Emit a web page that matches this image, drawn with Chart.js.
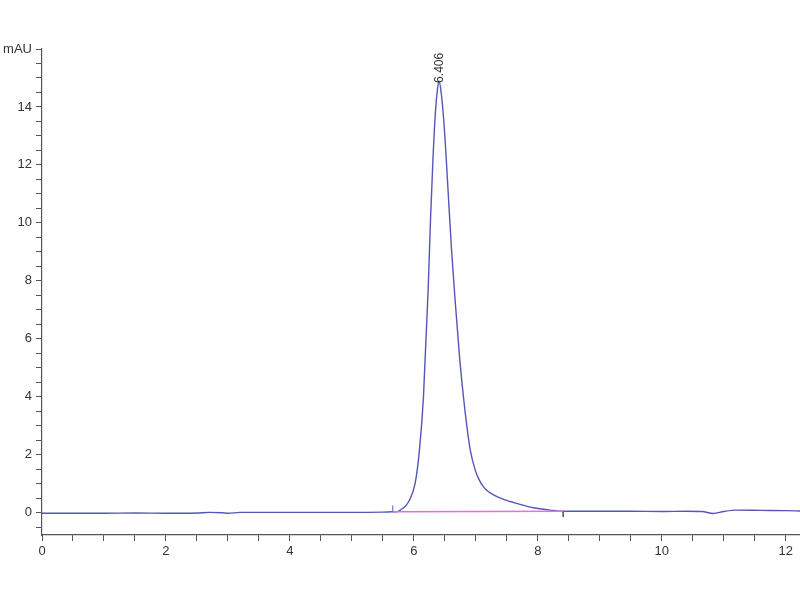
<!DOCTYPE html>
<html>
<head>
<meta charset="utf-8">
<script src="https://cdn.jsdelivr.net/npm/chart.js@4/dist/chart.umd.min.js"></script>
<style>
  html, body { margin: 0; padding: 0; background: #fff; }
</style>
</head>
<body>
<canvas id="c" width="800" height="600"></canvas>
<script>
// retention time (min) and absorbance (mAU)
const times = [0, 0.5, 1, 1.5, 2, 2.5, 2.7, 2.9, 3.0, 3.2, 3.5, 4, 4.5, 5, 5.5, 5.66, 5.72, 5.78, 5.86, 5.93,
  6.02, 6.09, 6.155, 6.23, 6.27, 6.31, 6.35, 6.38, 6.406, 6.44, 6.48, 6.52, 6.56, 6.61, 6.67, 6.74, 6.80,
  6.86, 6.91, 6.99, 7.05, 7.12, 7.2, 7.3, 7.45, 7.66, 7.93, 8.2, 8.41, 9, 9.5, 10, 10.4, 10.65, 10.83, 11.0, 11.2,
  11.6, 12, 12.23];
const signal = [-0.02, -0.02, -0.02, -0.01, -0.02, -0.01, 0.01, 0.0, -0.02, 0.01, 0.01, 0.01, 0.01, 0.01, 0.02, 0.03, 0.03, 0.09, 0.22, 0.44,
  1.01, 2.16, 4.0, 7.68, 10.2, 12.3, 13.9, 14.6, 14.9, 14.5, 13.6, 12.3, 10.8, 9.0, 7.2, 5.3, 4.0,
  2.9, 2.16, 1.47, 1.15, 0.9, 0.73, 0.6, 0.46, 0.32, 0.17, 0.09, 0.05, 0.05, 0.05, 0.04, 0.05, 0.04, -0.03, 0.04, 0.09,
  0.08, 0.07, 0.06];

// integration baseline under the peak, with its start / end marks
const baseTimes = [5.66, 8.41];
const baseValues = [0.03, 0.05];
const startMark = [0.03, 0.25];
const endMark = [0.05, -0.15];

const peakLabel = '6.406';
const xTickLabels = [0, 2, 4, 6, 8, 10, 12];
const yTickLabels = [0, 2, 4, 6, 8, 10, 12, 14];
const yUnit = 'mAU';

const pts = (xs, ys) => xs.map((x, i) => ({ x: x, y: ys[i] }));

const peakText = {
  id: 'peakText',
  afterDatasetsDraw(chart) {
    let k = 0;
    signal.forEach((v, i) => { if (v > signal[k]) k = i; });
    const px = chart.scales.x.getPixelForValue(times[k]);
    const py = chart.scales.y.getPixelForValue(signal[k]);
    const ctx = chart.ctx;
    ctx.save();
    ctx.translate(px + 1, py + 2);
    ctx.rotate(-Math.PI / 2);
    ctx.font = '12px "Liberation Sans", Arial, sans-serif';
    ctx.fillStyle = '#333';
    ctx.textAlign = 'left';
    ctx.textBaseline = 'middle';
    ctx.fillText(peakLabel, 0, 0);
    ctx.restore();
  }
};

const axisColor = '#555';
const font = { family: '"Liberation Sans", Arial, sans-serif', size: 13 };

new Chart(document.getElementById('c'), {
  type: 'line',
  data: {
    datasets: [
      {
        data: pts(baseTimes, baseValues),
        borderColor: '#e070e4',
        borderWidth: 1.5,
        pointRadius: 0
      },
      {
        data: pts([baseTimes[0], baseTimes[0]], startMark),
        borderColor: '#5b5bbd',
        borderWidth: 1,
        pointRadius: 0
      },
      {
        data: pts([baseTimes[1], baseTimes[1]], endMark),
        borderColor: '#555',
        borderWidth: 1,
        pointRadius: 0
      },
      {
        data: pts(times, signal),
        borderColor: '#5656b8',
        borderWidth: 1.4,
        pointRadius: 0,
        cubicInterpolationMode: 'monotone'
      }
    ]
  },
  options: {
    responsive: false,
    animation: false,
    layout: { padding: { top: 49, right: 0, bottom: 25, left: 0 } },
    plugins: { legend: { display: false }, tooltip: { enabled: false } },
    scales: {
      x: {
        type: 'linear',
        min: 0,
        max: 12.23,
        border: { display: true, color: axisColor, width: 1.2 },
        grid: { drawOnChartArea: false, tickLength: 6, tickColor: axisColor },
        ticks: {
          stepSize: 0.5,
          includeBounds: false,
          autoSkip: false,
          maxRotation: 0,
          padding: 3,
          color: '#333',
          font: font,
          callback: v => xTickLabels.includes(v) ? String(v) : ''
        },
        afterFit: s => { s.height = 40; }
      },
      y: {
        type: 'linear',
        min: -0.77,
        max: 16,
        border: { display: true, color: axisColor, width: 1.2 },
        grid: { drawOnChartArea: false, tickLength: 6, tickColor: axisColor },
        ticks: {
          stepSize: 0.5,
          includeBounds: false,
          autoSkip: false,
          padding: 4,
          color: '#333',
          font: font,
          callback: v => v === 16 ? yUnit : (yTickLabels.includes(v) ? String(v) : '')
        },
        afterFit: s => { s.width = 42; }
      }
    }
  },
  plugins: [peakText]
});
</script>
</body>
</html>
